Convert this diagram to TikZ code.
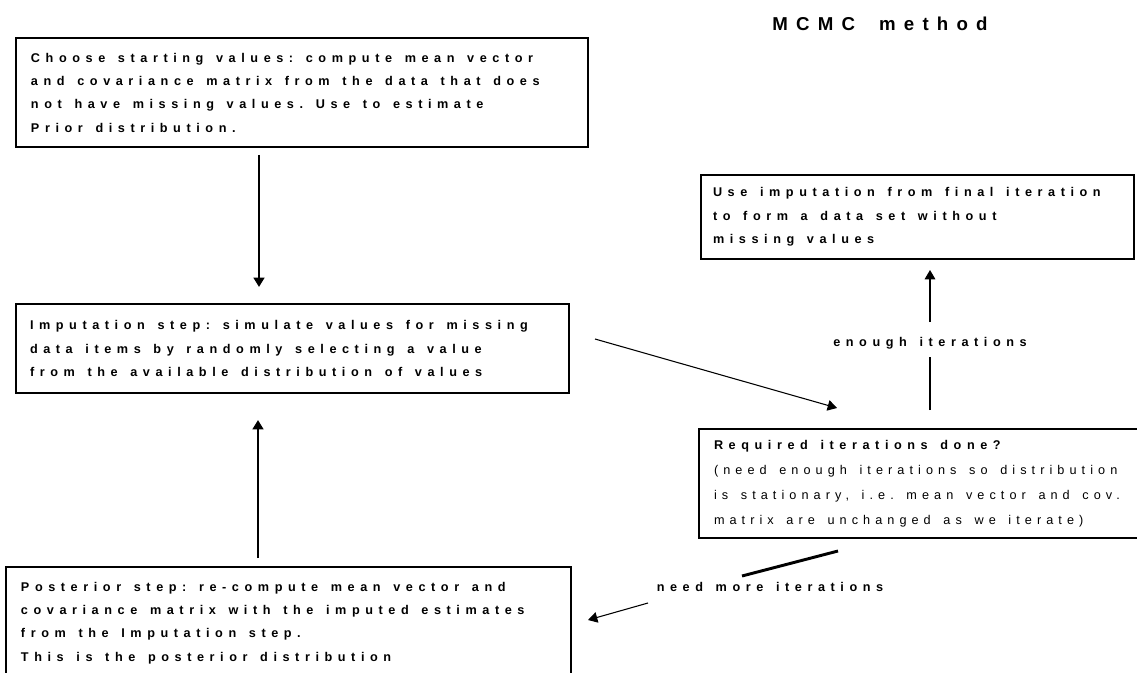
\documentclass[tikz,border=0pt]{standalone}
\usepackage{fontspec}
\setmainfont{Liberation Sans}
\newfontfamily\spaced[LetterSpace=44]{Liberation Sans}
\newfontfamily\spacedlight[LetterSpace=40]{Liberation Sans}
\usetikzlibrary{calc}
\usetikzlibrary{arrows.meta}

\begin{document}
\begin{tikzpicture}[x=0.75pt, y=-0.75pt, >={Triangle[length=7pt,width=8pt]},
	every node/.style={font=\spaced\bfseries\fontsize{9.5}{17.5}\selectfont,
		execute at begin node={\spaceskip=9.5pt plus 1pt\relax\xspaceskip=9.5pt plus 1pt\relax}},
	stepbox/.style={draw=black, line width=1.5pt, anchor=north west, align=left, inner ysep=0pt},
	heavy/.style={line width=2.2pt},
	light/.style={line width=0.8pt}]
	\useasboundingbox (0,0) rectangle (1137,673);
	\clip (0,0) rectangle (1137,673);
	\node(title) at (880,24){\fontsize{14}{16}\selectfont\spaceskip=18pt\relax MCMC method};
	\node[stepbox, inner xsep=11.25pt, text width=406.5pt, minimum height=81.75pt](start) at (15,37){Choose starting values: compute mean vector\\and covariance matrix from the data that does\\not have missing values. Use to estimate\\Prior distribution.};
	\node[stepbox, inner xsep=10.5pt, text width=393.75pt, minimum height=66.75pt](impute) at (15,303){Imputation step: simulate values for missing\\data items by randomly selecting a value\\from the available distribution of values};
	\node[stepbox, inner xsep=11.25pt, text width=401.25pt, minimum height=84pt](post) at (5,566){Posterior step: re-compute mean vector and\\covariance matrix with the imputed estimates\\from the Imputation step.\\This is the posterior distribution};
	\node[stepbox, inner xsep=9pt, text width=306.75pt, minimum height=63pt](final) at (700,174){Use imputation from final iteration\\to form a data set without\\missing values};
	\node[stepbox, inner xsep=11.25pt, text width=316.5pt, minimum height=81.75pt, font=\spacedlight\fontsize{9.5}{18.75}\selectfont](check) at (698,428){{\spaced\bfseries Required iterations done?}\\(need enough iterations so distribution\\is stationary, i.e. mean vector and cov.\\matrix are unchanged as we iterate)};
	\node(enough) at (930,343){enough iterations};
	\node(more) at (770,587){need more iterations};
	\coordinate(m1) at (742,576);
	\coordinate(m2) at (648,603);
	\draw[heavy,->] ($(start.south west)+(244,7)$) -- ($(impute.north west)+(244,-16)$);
	\draw[heavy,->] ($(post.north west)+(253,-8)$) -- ($(impute.south west)+(243,26)$);
	\draw[light,->] ($(impute.north east)+(25,36)$) -- ($(check.north west)+(139,-20)$);
	\draw[heavy, shorten <=13.5pt, shorten >=10.5pt] (check.north -| enough.center) -- (enough.center);
	\draw[light,->, shorten <=15.75pt, shorten >=7.5pt] (enough.center) -- (final.south -| enough.center);
	\draw[heavy] ($(check.south west)+(140,12)$) -- (m1);
	\draw[light,->] (m2) -- ($(post.east)+(16,-3)$);
\end{tikzpicture}
\end{document}
